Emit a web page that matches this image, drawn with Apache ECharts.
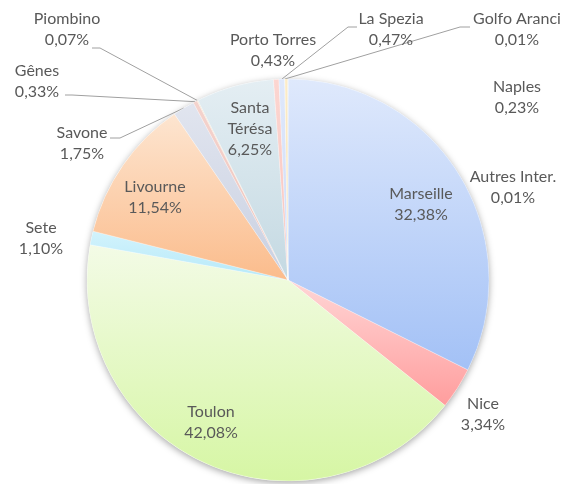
<!DOCTYPE html>
<html>
<head>
<meta charset="utf-8">
<script src="https://cdn.jsdelivr.net/npm/echarts@6/dist/echarts.min.js"></script>
<style>
    html, body { margin: 0; padding: 0; background: #fff; }
    #chart { width: 563px; height: 484px; }
</style>
</head>
<body>
<div id="chart"></div>
<script>
    // data (share in %)
    var ports = ['Marseille', 'Nice', 'Toulon', 'Sete', 'Livourne', 'Savone', 'Gênes', 'Piombino',
        'Santa Térésa', 'Porto Torres', 'La Spezia', 'Golfo Aranci', 'Naples', 'Autres Inter.'];
    var shares = [32.38, 3.34, 42.08, 1.10, 11.54, 1.75, 0.33, 0.07, 6.25, 0.43, 0.47, 0.01, 0.23, 0.01];

    // slice gradients, top -> bottom
    var fills = [
        ['#dfe9fc', '#a3c1f6'], ['#ffd6d6', '#ff9d9d'], ['#f3fbe6', '#d6f6a4'], ['#d2f3fc', '#b6e9f9'],
        ['#fde5d0', '#fbbc8c'], ['#e1e5ef', '#c9d0e1'], ['#f4d3cd', '#eec2ba'], ['#f3e3cd', '#ecd3b2'],
        ['#e4eef3', '#c4d9e2'], ['#fcd6d1', '#f8c4bd'], ['#dfe8fb', '#cddcf8'], ['#f7f8cc', '#eef0b0'],
        ['#fcecc8', '#f6dea8'], ['#e2e9f4', '#d2ddef']
    ];

    // label placement (centre of text block) and leader line ends
    var labelPos = [
        [421, 204], [483, 414], [211, 422], [41, 238], [155, 197], [82, 143], [37, 81], [67, 29],
        [250, 129], [273, 50], [391, 29], [517, 29], [517, 97], [513, 187]
    ];
    var leaders = {
        5: [[120, 138], [110, 138]],
        6: [[72, 95], [65, 95]],
        7: [[100, 48], [92, 48]],
        10: [[348, 27], [357, 27]],
        11: [[460, 27], [470, 27]]
    };

    var chart = echarts.init(document.getElementById('chart'));

    var seriesData = ports.map(function (name, i) {
        var hasLine = leaders[i] !== undefined;
        return {
            name: name,
            value: shares[i],
            itemStyle: {
                color: new echarts.graphic.LinearGradient(0, 0, 0, 1, [
                    {offset: 0, color: fills[i][0]},
                    {offset: 1, color: fills[i][1]}
                ])
            },
            label: {position: hasLine ? 'outside' : 'inside'},
            labelLine: {show: hasLine}
        };
    });

    chart.setOption({
        animation: false,
        series: [
            {
                // soft shadow under the pie
                type: 'pie',
                silent: true,
                center: [288, 280],
                radius: 201,
                z: 1,
                label: {show: false},
                labelLine: {show: false},
                itemStyle: {
                    color: '#ffffff',
                    shadowBlur: 7,
                    shadowOffsetY: 2,
                    shadowColor: 'rgba(0,0,0,0.35)'
                },
                data: [{value: 1}]
            },
            {
                type: 'pie',
                center: [288, 280],
                radius: 201,
                startAngle: 90,
                clockwise: true,
                z: 2,
                avoidLabelOverlap: false,
                itemStyle: {
                    borderColor: 'rgba(255,255,255,0.5)',
                    borderWidth: 0.5
                },
                label: {
                    show: true,
                    color: '#595959',
                    fontFamily: 'Lato',
                    fontSize: 16,
                    lineHeight: 21,
                    align: 'center',
                    formatter: function (p) {
                        var n = p.name === 'Santa Térésa' ? 'Santa\nTérésa' : p.name;
                        return n + '\n' + p.value.toFixed(2).replace('.', ',') + '%';
                    }
                },
                labelLine: {
                    lineStyle: {color: '#a0a0a0', width: 1}
                },
                labelLayout: function (params) {
                    var i = params.dataIndex;
                    var res = {
                        x: labelPos[i][0],
                        y: labelPos[i][1],
                        align: 'center',
                        verticalAlign: 'middle'
                    };
                    if (leaders[i] && params.labelLinePoints) {
                        var a = params.labelLinePoints[0];
                        res.labelLinePoints = [[a[0], a[1]], leaders[i][0], leaders[i][1]];
                    }
                    return res;
                },
                data: seriesData
            }
        ]
    });
</script>
</body>
</html>
